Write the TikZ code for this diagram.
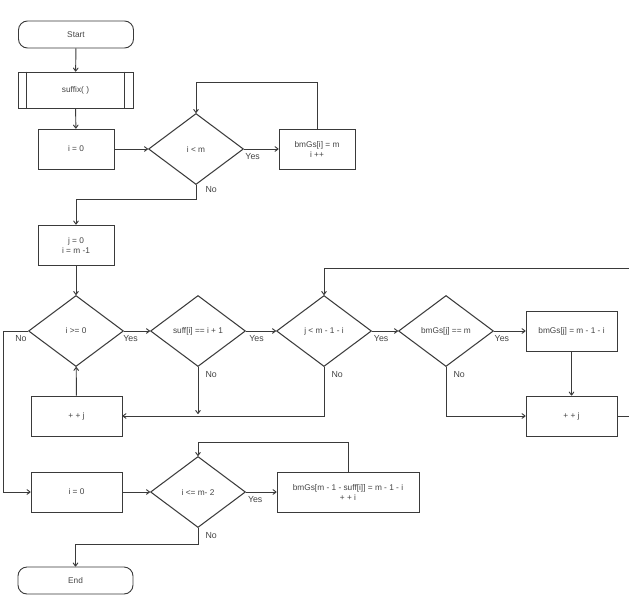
\documentclass[tikz,border=0pt]{standalone}
\usepackage{fontspec}
\setmainfont{Liberation Sans}
\usetikzlibrary{shapes.geometric,arrows.meta}
\definecolor{ln}{HTML}{3A3A3A}
\definecolor{tx}{HTML}{444444}
\tikzset{
  every node/.style={font=\fontsize{8.3}{10}\selectfont, text=tx},
  box/.style={draw=ln, line width=0.8pt, rectangle, minimum width=76pt, minimum height=40pt, inner sep=1pt, align=center},
  wbox/.style={box, minimum width=91pt},
  term/.style={draw=ln, line width=0.9pt, rectangle, rounded corners=9pt, minimum width=115pt, minimum height=27pt},
  dec/.style={draw=ln, line width=1.05pt, diamond, minimum width=95pt, minimum height=71pt, inner sep=0pt, align=center},
  arr/.style={draw=ln, line width=0.95pt, -{To[length=4pt,width=5.5pt]}},
  ln/.style={draw=ln, line width=0.9pt},
  lab/.style={font=\fontsize{8.8}{10}\selectfont, text=tx},
}
\begin{document}
\begin{tikzpicture}[x=1pt,y=-1pt]
\useasboundingbox (0,0) rectangle (629,597);
% nodes
\node[term] (start) at (76,34.5) {Start};
\node[box, minimum width=115pt, minimum height=36pt] (suf) at (75.5,90) {suffix( )};
\draw[ln] ([xshift=9pt]suf.north west) -- ([xshift=9pt]suf.south west);
\draw[ln] ([xshift=-9pt]suf.north east) -- ([xshift=-9pt]suf.south east);
\node[box] (i0) at (76,149) {i = 0};
\node[dec] (d1) at (196,149) {i < m};
\node[box] (b1) at (317,149) {bmGs[i] = m\\i ++};
\node[box] (j0) at (76,245) {j = 0\\i = m -1};
\node[dec] (d2) at (76,331) {i >= 0};
\node[dec] (d3) at (198,331) {suff[i] == i + 1};
\node[dec] (d4) at (324,331) {j < m - 1 - i};
\node[dec] (d5) at (446,331) {bmGs[j] == m};
\node[wbox] (b2) at (571.5,331) {bmGs[j] = m - 1 - i};
\node[wbox] (pj2) at (571.5,416) {+ + j};
\node[wbox] (pj1) at (76.5,416) {+ + j};
\node[wbox] (i0b) at (76.5,492) {i = 0};
\node[dec] (d6) at (198,492) {i <= m- 2};
\node[box, minimum width=142pt] (b3) at (348,492) {bmGs[m - 1 - suff[i]] = m - 1 - i\\+ + i};
\node[term] (end) at (75.5,580.5) {End};
\coordinate (edgeR) at (629,416);
\coordinate (edgeT) at (629,268);
% connectors
\draw[arr] (start) -- (suf);
\draw[arr] (suf) -- (i0);
\draw[arr] (i0) -- (d1);
\draw[arr] (d1) -- node[lab, pos=0.25, below=1pt]{Yes} (b1);
\draw[arr] (b1.north) -- ++(0,-46) -| (d1.north);
\draw[arr] (d1.south) -- ++(0,14) -| (j0.north);
\node[lab, anchor=west] at (202,190) {No};
\draw[arr] (j0) -- (d2);
\draw[arr] (d2) -- node[lab, pos=0.25, below=1pt]{Yes} (d3);
\draw[arr] (d3) -- node[lab, pos=0.35, below=1pt]{Yes} (d4);
\draw[arr] (d4) -- node[lab, pos=0.35, below=1pt]{Yes} (d5);
\draw[arr] (d5) -- node[lab, pos=0.25, below=1pt]{Yes} (b2);
\draw[arr] (b2) -- (pj2);
\draw[arr] (d5.south) |- (pj2.west);
\node[lab, anchor=west] at (450,375) {No};
\draw[arr] (d4.south) |- (pj1.east);
\node[lab, anchor=west] at (328,375) {No};
\draw[arr] (d3.south) -- (198,414);
\node[lab, anchor=west] at (202,375) {No};
\draw[arr] (pj1) -- (d2);
\draw[ln] (pj2.east) -- (edgeR);
\draw[arr] (edgeT) -| (d4.north);
\draw[arr] (d2.west) -- (3,331) |- (i0b.west);
\node[lab] at (21,339) {No};
\draw[arr] (i0b) -- (d6);
\draw[arr] (d6) -- node[lab, pos=0.3, below=1pt]{Yes} (b3);
\draw[arr] (b3.north) -- ++(0,-29) -| (d6.north);
\draw[arr] (d6.south) -- ++(0,16) -| (end.north);
\node[lab, anchor=west] at (202,536) {No};
\end{tikzpicture}
\end{document}
